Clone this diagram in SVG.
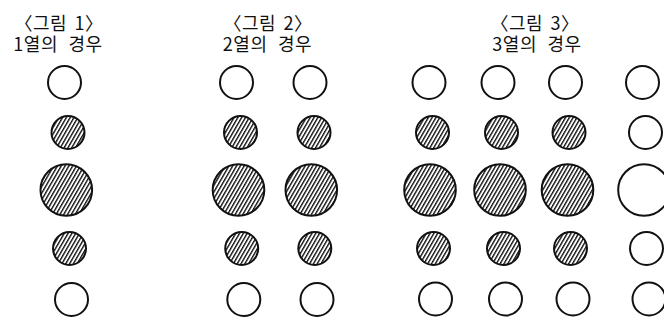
<svg xmlns="http://www.w3.org/2000/svg" width="664" height="321" viewBox="0 0 664 321">
<style>
.c{fill:#fff;stroke:#111;stroke-width:2}
.h{fill:url(#hatch);stroke:#111;stroke-width:2}
.t{font-family:"Noto Sans CJK KR","Noto Sans",sans-serif;font-size:18px;fill:#111;text-anchor:middle;letter-spacing:0.5px}
.t1{word-spacing:3px}
.t2{word-spacing:6px}
</style>
<defs>
<pattern id="hatch" patternUnits="userSpaceOnUse" width="3.3" height="3.3" patternTransform="rotate(30)">
<rect width="3.3" height="3.3" fill="#fff"/>
<line x1="0.7" y1="0" x2="0.7" y2="3.3" stroke="#000" stroke-width="1.3"/>
</pattern>
</defs>
<rect width="664" height="321" fill="#fff"/>
<g id="fig1">
<text class="t t1" x="59" y="30">〈그림 1〉</text>
<text class="t t2" x="58" y="50.5">1열의 경우</text>
<g id="f1-r1"><circle class="c" cx="64.5" cy="82.5" r="16.5"/></g>
<g id="f1-r2"><circle class="h" cx="68" cy="132.5" r="16.5"/></g>
<g id="f1-r3"><circle class="h" cx="66.3" cy="190" r="25.8"/></g>
<g id="f1-r4"><circle class="h" cx="69.5" cy="248.5" r="16.5"/></g>
<g id="f1-r5"><circle class="c" cx="71.5" cy="299.5" r="16.5"/></g>
</g>
<g id="fig2">
<text class="t t1" x="268" y="30">〈그림 2〉</text>
<text class="t t2" x="267.5" y="50.5">2열의 경우</text>
<g id="f2a-r1"><circle class="c" cx="236.5" cy="82.5" r="16.5"/></g>
<g id="f2a-r2"><circle class="h" cx="240.5" cy="132.5" r="16.5"/></g>
<g id="f2a-r3"><circle class="h" cx="238.5" cy="190" r="25.8"/></g>
<g id="f2a-r4"><circle class="h" cx="241.7" cy="248.5" r="16.5"/></g>
<g id="f2a-r5"><circle class="c" cx="243.8" cy="299.5" r="16.5"/></g>
<g id="f2b-r1"><circle class="c" cx="310" cy="82.5" r="16.5"/></g>
<g id="f2b-r2"><circle class="h" cx="314" cy="132.5" r="16.5"/></g>
<g id="f2b-r3"><circle class="h" cx="311.3" cy="190" r="25.8"/></g>
<g id="f2b-r4"><circle class="h" cx="314.8" cy="248.5" r="16.5"/></g>
<g id="f2b-r5"><circle class="c" cx="317" cy="299.5" r="16.5"/></g>
</g>
<g id="fig3">
<text class="t t1" x="535" y="30">〈그림 3〉</text>
<text class="t t2" x="537" y="50.5">3열의 경우</text>
<g id="f3a-r1"><circle class="c" cx="429" cy="82.5" r="16.5"/></g>
<g id="f3a-r2"><circle class="h" cx="432.5" cy="132.5" r="16.5"/></g>
<g id="f3a-r3"><circle class="h" cx="430" cy="190" r="25.8"/></g>
<g id="f3a-r4"><circle class="h" cx="433.5" cy="248.5" r="16.5"/></g>
<g id="f3a-r5"><circle class="c" cx="435.5" cy="299" r="16.5"/></g>
<g id="f3b-r1"><circle class="c" cx="498" cy="82.5" r="16.5"/></g>
<g id="f3b-r2"><circle class="h" cx="501.5" cy="132.5" r="16.5"/></g>
<g id="f3b-r3"><circle class="h" cx="500" cy="190" r="25.8"/></g>
<g id="f3b-r4"><circle class="h" cx="503.5" cy="248.5" r="16.5"/></g>
<g id="f3b-r5"><circle class="c" cx="505.5" cy="299" r="16.5"/></g>
<g id="f3c-r1"><circle class="c" cx="565.5" cy="82.5" r="16.5"/></g>
<g id="f3c-r2"><circle class="h" cx="569" cy="132.5" r="16.5"/></g>
<g id="f3c-r3"><circle class="h" cx="567.5" cy="190" r="25.8"/></g>
<g id="f3c-r4"><circle class="h" cx="570.5" cy="248.5" r="16.5"/></g>
<g id="f3c-r5"><circle class="c" cx="573" cy="299" r="16.5"/></g>
<g id="f3d-r1"><circle class="c" cx="642.5" cy="82.5" r="16.5"/></g>
<g id="f3d-r2"><circle class="c" cx="645.5" cy="132.5" r="16.5"/></g>
<g id="f3d-r3"><circle class="c" cx="644" cy="190" r="25.8"/></g>
<g id="f3d-r4"><circle class="c" cx="646.5" cy="248.5" r="16.5"/></g>
<g id="f3d-r5"><circle class="c" cx="649" cy="299" r="16.5"/></g>
</g>
</svg>
